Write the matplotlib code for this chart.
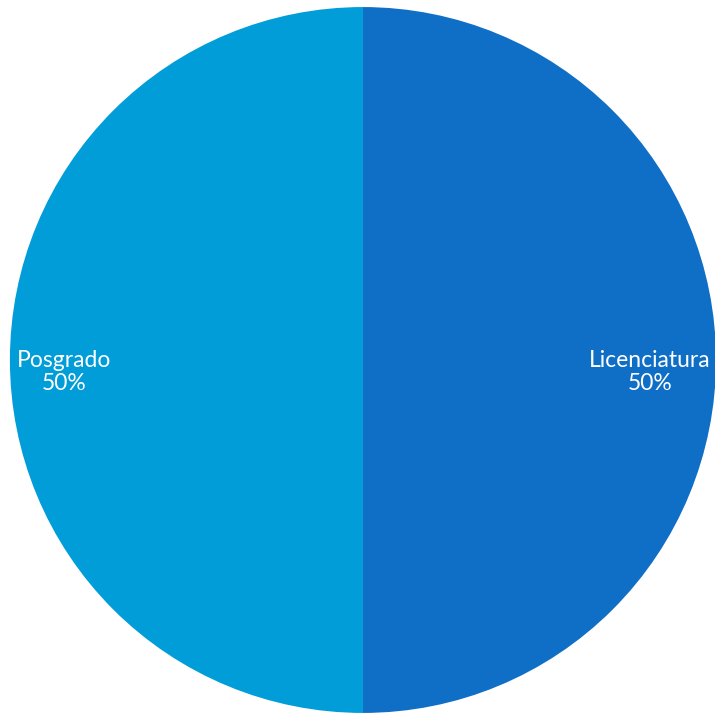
import matplotlib
matplotlib.use("Agg")
import matplotlib.pyplot as plt

categories = ["Licenciatura", "Posgrado"]
values = [50, 50]
colors = ["#0F6FC6", "#009DD9"]

fig = plt.figure(figsize=(7.15, 7.14), dpi=100)
ax = fig.add_axes([0, 0, 1, 1])
total = sum(values)
labels = [f"{c}\n{v / total * 100:.0f}%" for c, v in zip(categories, values)]
wedges, texts = ax.pie(values, colors=colors, startangle=90, counterclock=False,
                       labels=labels, labeldistance=0.83,
                       textprops=dict(color="white", fontsize=16.5, family=["Lato", "DejaVu Sans"],
                                      linespacing=1.15))
for t in texts:
    t.set_horizontalalignment("center")
    t.set_verticalalignment("center")
    x, y = t.get_position()
    t.set_position((x - 0.017, y - 0.034))
ax.set_xlim(-1.028, 0.997)
ax.set_ylim(-1.003, 1.020)
ax.set_aspect("auto")
ax.axis("off")
fig.savefig("out.png", dpi=100)
